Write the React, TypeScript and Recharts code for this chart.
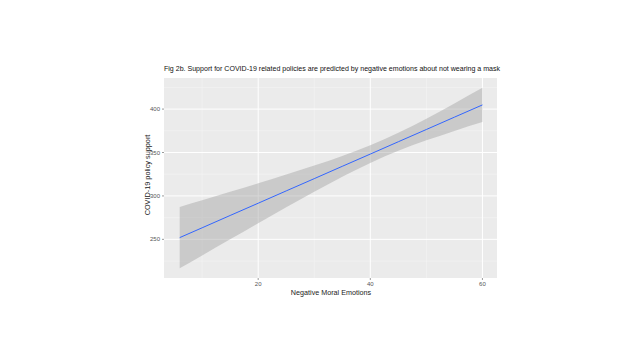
import { ComposedChart, Area, Line, XAxis, YAxis, CartesianGrid } from "recharts";

// fitted line and 95% band
const emotion = [6, 10, 15, 20, 25, 30, 35, 40, 45, 50, 55, 60];
const fitted = [252, 263.3, 277.5, 291.6, 305.8, 319.9, 334.1, 348.2, 362.4, 376.5, 390.7, 404.8];
const lower = [216.6, 231.5, 250.1, 268.6, 286.9, 304.8, 322.1, 338.0, 352.0, 364.0, 374.9, 385.1];
const upper = [287.4, 295.1, 304.9, 314.6, 324.7, 335.0, 346.1, 358.4, 372.8, 389.0, 406.5, 424.5];

const xTicks = [20, 40, 60];
const yTicks = [250, 300, 350, 400];
const xMinor = [10, 30, 50];
const yMinor = [225, 275, 325, 375, 425];

const data = emotion.map((x, i) => ({
  x,
  fit: fitted[i],
  band: [lower[i], upper[i]],
}));

const font = "'Liberation Sans', Arial, sans-serif";

export default function App() {
  return (
    <div
      style={{
        position: "absolute",
        left: 0,
        top: 0,
        width: 640,
        height: 362,
        background: "#fff",
        fontFamily: font,
      }}
    >
      <ComposedChart
        width={640}
        height={362}
        data={data}
        margin={{ top: 78, right: 143, bottom: 64, left: 134 }}
      >
        <CartesianGrid
          fill="#EBEBEB"
          stroke="#F5F5F5"
          strokeWidth={0.6}
          verticalValues={xMinor}
          horizontalValues={yMinor}
        />
        <CartesianGrid
          stroke="#FFFFFF"
          strokeWidth={1}
          verticalValues={xTicks}
          horizontalValues={yTicks}
        />
        <XAxis
          dataKey="x"
          type="number"
          domain={[3.2, 62.6]}
          ticks={xTicks}
          allowDataOverflow
          height={20}
          axisLine={false}
          tickLine={{ stroke: "#555", strokeWidth: 0.6 }}
          tickSize={2}
          tick={{ fill: "#555", fontSize: 6, fontFamily: font }}
        />
        <YAxis
          type="number"
          domain={[205.5, 435.8]}
          ticks={yTicks}
          allowDataOverflow
          width={30}
          axisLine={false}
          tickLine={{ stroke: "#555", strokeWidth: 0.6 }}
          tickSize={2}
          tick={{ fill: "#555", fontSize: 6, fontFamily: font }}
        />
        <Area
          dataKey="band"
          type="monotone"
          stroke="none"
          fill="#999999"
          fillOpacity={0.4}
          isAnimationActive={false}
        />
        <Line
          dataKey="fit"
          type="linear"
          stroke="#3366FF"
          strokeWidth={1}
          dot={false}
          isAnimationActive={false}
        />
      </ComposedChart>
      <div
        style={{
          position: "absolute",
          left: 164,
          top: 65,
          fontSize: 7.05,
          color: "#111",
          whiteSpace: "nowrap",
        }}
      >
        Fig 2b. Support for COVID-19 related policies are predicted by negative emotions about not wearing a mask
      </div>
      <div
        style={{
          position: "absolute",
          left: 331,
          top: 292,
          transform: "translate(-50%, -50%)",
          fontSize: 7.2,
          color: "#222",
          whiteSpace: "nowrap",
        }}
      >
        Negative Moral Emotions
      </div>
      <div
        style={{
          position: "absolute",
          left: 147,
          top: 175,
          transform: "translate(-50%, -50%) rotate(-90deg)",
          fontSize: 7.3,
          color: "#222",
          whiteSpace: "nowrap",
        }}
      >
        COVID-19 policy support
      </div>
    </div>
  );
}
